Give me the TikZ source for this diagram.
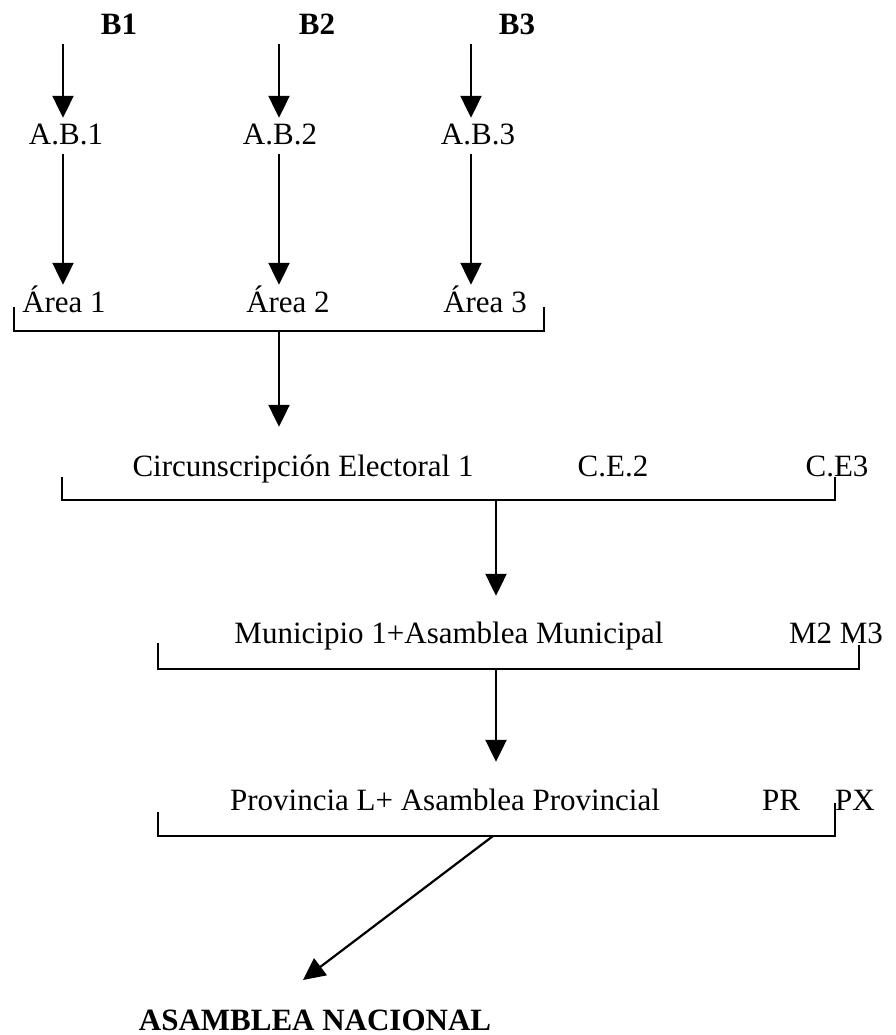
\documentclass[tikz,border=0pt]{standalone}
\usepackage{fontspec}
\setmainfont{Liberation Serif}
\usepackage{tikz}
\usetikzlibrary{arrows.meta,positioning,calc}

\begin{document}
\begin{tikzpicture}[x=1pt,y=-1pt,
    lbl/.style={font=\fontsize{31}{36}\selectfont, anchor=base, inner sep=0pt, text height=27pt, text depth=9pt},
    boldlbl/.style={lbl, font=\fontsize{31}{36}\selectfont\bfseries},
    flow/.style={draw, line width=2.2pt, -{Triangle[width=21pt,length=22pt]}},
    bracket/.style={draw, line width=2.2pt}
    ]
    \useasboundingbox (0,0) rectangle (895,1035);

    % the three columns B -> A.B. -> Area
    \foreach \i/\cx/\bx/\abx/\ax in {1/63/119/66/64, 2/279/317/280/288, 3/471/517/478/485} {
        \coordinate (col\i) at (\cx,0);
        \node[boldlbl] (B\i) at (\bx,35) {B\i};
        \node[lbl] (AB\i) at (\abx,145) {A.B.\i};
        \node[lbl] (A\i) at (\ax,312) {Área \i};
        \path[every edge/.style={flow}]
        (B\i.south -| col\i) edge (AB\i.north -| col\i)
        (AB\i.south -| col\i) edge (A\i.north -| col\i);
    }

    % the levels below
    \node[lbl] (CE1) at (303,476) {Circunscripción Electoral 1};
    \node[lbl] (CE2) at (613,476) {C.E.2};
    \node[lbl] (CE3) at (837,476) {C.E3};
    \node[lbl] (M1) at (449,643) {Municipio 1+Asamblea Municipal};
    \node[lbl] (M23) at (836,643) {M2 M3};
    \node[lbl] (P1) at (445,810) {Provincia L+ Asamblea Provincial};
    \node[lbl] (PR) at (781,810) {PR};
    \node[lbl] (PX) at (855,810) {PX};
    \node[boldlbl] (AN) at (315,1030) {ASAMBLEA NACIONAL};

    % brackets under each level
    \foreach \n/\xl/\yl/\xr/\yr/\yb/\xm in {1/14/307/544/307/331/279, 2/62/477/835/477/500/496, 3/158/643/859/645/669/496, 4/158/812/835/803/836/493} {
        \coordinate (L\n) at (\xl,\yl);
        \coordinate (R\n) at (\xr,\yr);
        \coordinate (mid\n) at (\xm,\yb);
        \draw[bracket] (L\n) |- (mid\n) -| (R\n);
    }

    \coordinate (natip) at (303,980);

    \path[every edge/.style={flow}]
    (mid1) edge[shorten >=22pt] (CE1.north -| mid1)
    (mid2) edge[shorten >=20pt] (M1.north -| mid2)
    (mid3) edge[shorten >=21pt] (P1.north -| mid3)
    (mid4) edge (natip)
    ;

\end{tikzpicture}
\end{document}
